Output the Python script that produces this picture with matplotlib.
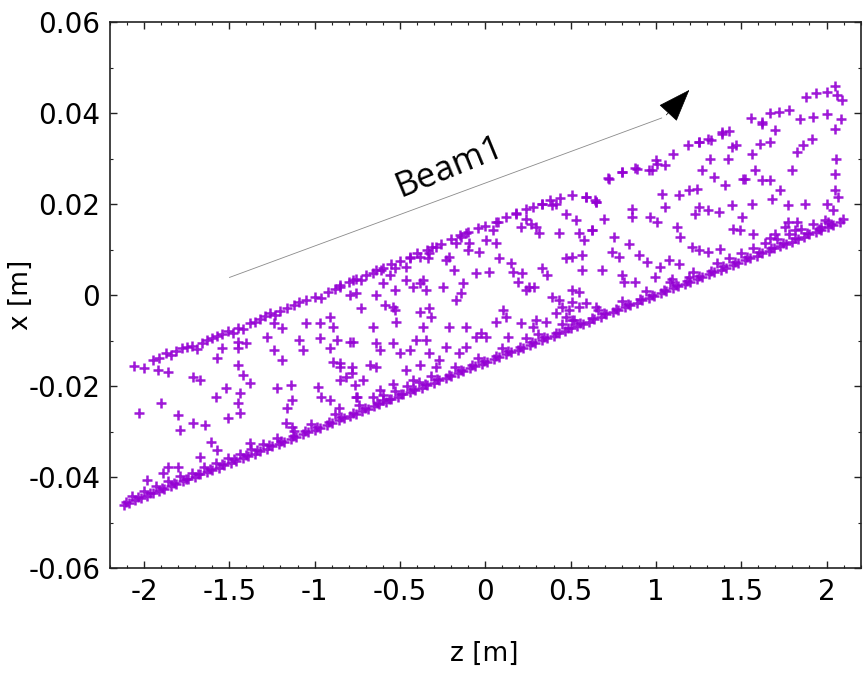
import matplotlib
matplotlib.use('Agg')
import matplotlib.pyplot as plt
from matplotlib.ticker import MultipleLocator, FormatStrFormatter

plt.rcParams['axes.unicode_minus'] = False
plt.rcParams['font.family'] = ['DejaVu Sans']

# lower edge of the band (dense line of particles)
z_edge = [-2.12, -2.09, -2.05, -2.02, -1.98, -1.95, -1.91, -1.88, -1.84, -1.81,
          -1.77, -1.74, -1.70, -1.67, -1.63, -1.60, -1.56, -1.53, -1.49, -1.46,
          -1.42, -1.39, -1.35, -1.32, -1.28, -1.25, -1.21, -1.18, -1.14, -1.11,
          -1.07, -1.04, -1.00, -0.97, -0.93, -0.90, -0.86, -0.83, -0.79, -0.76,
          -0.72, -0.69, -0.65, -0.62, -0.58, -0.55, -0.51, -0.48, -0.44, -0.41,
          -0.37, -0.34, -0.30, -0.27, -0.23, -0.20, -0.16, -0.13, -0.09, -0.06,
          -0.02, 0.01, 0.05, 0.08, 0.12, 0.15, 0.19, 0.22, 0.26, 0.29,
          0.33, 0.36, 0.40, 0.43, 0.47, 0.50, 0.54, 0.57, 0.61, 0.64,
          0.68, 0.71, 0.75, 0.78, 0.82, 0.85, 0.89, 0.92, 0.96, 0.99,
          1.03, 1.06, 1.10, 1.13, 1.17, 1.20, 1.24, 1.27, 1.31, 1.34,
          1.38, 1.41, 1.45, 1.48, 1.52, 1.55, 1.59, 1.62, 1.66, 1.69,
          1.73, 1.76, 1.80, 1.83, 1.87, 1.90, 1.94, 1.97, 2.01, 2.04, 2.08]
x_edge = [-0.0462, -0.0457, -0.0450, -0.0446, -0.0441, -0.0435, -0.0431, -0.0426, -0.0419, -0.0416,
          -0.0409, -0.0405, -0.0400, -0.0394, -0.0389, -0.0384, -0.0379, -0.0373, -0.0368, -0.0364,
          -0.0357, -0.0353, -0.0348, -0.0342, -0.0337, -0.0332, -0.0326, -0.0322, -0.0317, -0.0311,
          -0.0306, -0.0301, -0.0296, -0.0291, -0.0285, -0.0281, -0.0275, -0.0270, -0.0265, -0.0260,
          -0.0254, -0.0250, -0.0244, -0.0239, -0.0234, -0.0229, -0.0223, -0.0218, -0.0213, -0.0208,
          -0.0203, -0.0198, -0.0192, -0.0187, -0.0182, -0.0177, -0.0172, -0.0167, -0.0161, -0.0156,
          -0.0151, -0.0146, -0.0141, -0.0136, -0.0130, -0.0125, -0.0120, -0.0115, -0.0109, -0.0105,
          -0.0099, -0.0094, -0.0089, -0.0084, -0.0078, -0.0073, -0.0068, -0.0063, -0.0058, -0.0053,
          -0.0047, -0.0042, -0.0037, -0.0032, -0.0026, -0.0022, -0.0016, -0.0011, -0.0006, -0.0001,
          0.0005, 0.0009, 0.0015, 0.0020, 0.0025, 0.0030, 0.0036, 0.0041, 0.0046, 0.0051,
          0.0056, 0.0061, 0.0067, 0.0072, 0.0077, 0.0082, 0.0087, 0.0092, 0.0098, 0.0103,
          0.0108, 0.0113, 0.0118, 0.0123, 0.0129, 0.0134, 0.0139, 0.0144, 0.0150, 0.0154, 0.0160]

# more particles packed on the lower edge
z_edge3 = [-2.105, -2.035, -1.965, -1.895, -1.825, -1.755, -1.685, -1.615, -1.545, -1.475,
           -1.405, -1.335, -1.265, -1.195, -1.125, -1.055, -0.985, -0.915, -0.845, -0.775,
           -0.705, -0.635, -0.565, -0.495, -0.425, -0.355, -0.285, -0.215, -0.145, -0.075,
           -0.005, 0.065, 0.135, 0.205, 0.275, 0.345, 0.415, 0.485, 0.555, 0.625,
           0.695, 0.765, 0.835, 0.905, 0.975, 1.045, 1.115, 1.185, 1.255, 1.325,
           1.395, 1.465, 1.535, 1.605, 1.675, 1.745, 1.815, 1.885, 1.955, 2.025]
x_edge3 = [-0.0455, -0.0444, -0.0434, -0.0423, -0.0413, -0.0403, -0.0392, -0.0382, -0.0372, -0.0361,
           -0.0351, -0.0341, -0.0330, -0.0320, -0.0310, -0.0299, -0.0289, -0.0278, -0.0268, -0.0258,
           -0.0247, -0.0237, -0.0227, -0.0216, -0.0206, -0.0196, -0.0185, -0.0175, -0.0165, -0.0154,
           -0.0144, -0.0133, -0.0123, -0.0113, -0.0102, -0.0092, -0.0082, -0.0071, -0.0061, -0.0051,
           -0.0040, -0.0030, -0.0019, -0.0009, 0.0001, 0.0012, 0.0022, 0.0032, 0.0043, 0.0053,
           0.0064, 0.0074, 0.0084, 0.0095, 0.0105, 0.0115, 0.0126, 0.0136, 0.0146, 0.0157]

# particles just above the lower edge
z_edge2 = [-2.07, -2.00, -1.93, -1.86, -1.79, -1.72, -1.65, -1.58, -1.51, -1.44,
           -1.37, -1.30, -1.22, -1.12, -1.02, -0.88, -0.74, -0.60, -0.53, -0.46,
           -0.39, -0.32, -0.18, -0.04, 0.10, 0.24, 0.31, 0.45, 0.52, 0.66,
           0.80, 0.94, 1.08, 1.22, 1.36, 1.43, 1.50, 1.57, 1.64, 1.71,
           1.78, 1.85, 1.92, 1.99]
x_edge2 = [-0.0441, -0.0430, -0.0420, -0.0409, -0.0398, -0.0390, -0.0378, -0.0369, -0.0357, -0.0348,
           -0.0337, -0.0326, -0.0314, -0.0298, -0.0284, -0.0262, -0.0242, -0.0220, -0.0211, -0.0199,
           -0.0190, -0.0178, -0.0158, -0.0137, -0.0117, -0.0095, -0.0085, -0.0064, -0.0054, -0.0033,
           -0.0012, 0.0009, 0.0030, 0.0051, 0.0072, 0.0082, 0.0092, 0.0103, 0.0114, 0.0124,
           0.0134, 0.0145, 0.0156, 0.0165]

# upper edge of the band
z_top = [-2.06, -2.00, -1.95, -1.91, -1.87, -1.84, -1.81, -1.78, -1.75, -1.72,
         -1.69, -1.66, -1.63, -1.60, -1.57, -1.54, -1.51, -1.48, -1.45, -1.42,
         -1.38, -1.35, -1.32, -1.29, -1.26, -1.23, -1.20, -1.16, -1.12, -1.09,
         -1.05, -1.00, -0.96, -0.92, -0.88, -0.85, -0.80, -0.76, -0.70, -0.64,
         -0.60, -0.55, -0.50, -0.44, -0.40, -0.34, -0.31, -0.26, -0.20, -0.15,
         -0.10, -0.04, 0.00, 0.06, 0.12, 0.18, 0.24, 0.28, 0.33, 0.38,
         0.44, 0.51, 0.59, 0.65, 0.72, 0.80, 0.88, 0.98, 1.00, 1.10,
         1.19, 1.25, 1.32, 1.39, 1.43, 1.47, 1.56, 1.62, 1.67, 1.72,
         1.78, 1.88, 1.94, 2.00, 2.05, 2.09, 2.06]
x_top = [-0.0156, -0.0160, -0.0142, -0.0137, -0.0128, -0.0131, -0.0122, -0.0117, -0.0113, -0.0111,
         -0.0118, -0.0105, -0.0099, -0.0093, -0.0089, -0.0086, -0.0079, -0.0084, -0.0072, -0.0075,
         -0.0062, -0.0058, -0.0052, -0.0046, -0.0040, -0.0044, -0.0035, -0.0028, -0.0022, -0.0015,
         -0.0010, -0.0004, -0.0007, 0.0008, 0.0014, 0.0019, 0.0029, 0.0036, 0.0044, 0.0055,
         0.0061, 0.0068, 0.0076, 0.0084, 0.0093, 0.0100, 0.0106, 0.0113, 0.0123, 0.0132,
         0.0140, 0.0149, 0.0153, 0.0161, 0.0171, 0.0180, 0.0189, 0.0195, 0.0201, 0.0210,
         0.0214, 0.0220, 0.0216, 0.0205, 0.0257, 0.0270, 0.0280, 0.0275, 0.0297, 0.0310,
         0.0330, 0.0336, 0.0342, 0.0358, 0.0362, 0.0331, 0.0390, 0.0380, 0.0400, 0.0402,
         0.0407, 0.0435, 0.0444, 0.0447, 0.0460, 0.0430, 0.0440]

# scattered particles inside the band
z_inner = [-1.92, -1.86, -1.71, -1.67, -1.45, -1.42, -1.38, -1.58, -1.52, -1.45,
           -1.44, -1.44, -1.51, -1.90, -2.03, -1.80, -1.79, -1.71, -1.64, -1.61,
           -1.57, -1.67, -1.86, -1.80, -1.89, -1.98, -1.38, -1.24, -1.19, -1.22,
           -1.14, -1.13, -1.16, -1.17, -1.13, -1.09, -1.07, -1.05, -0.97, -0.91,
           -0.89, -0.87, -0.91, -0.89, -0.85, -0.78, -0.78, -0.98, -0.96, -0.91,
           -0.85, -0.86, -0.75, -0.79, -0.97, -1.24, -1.19, -1.28, -1.40, -1.45,
           -1.45, -1.54, -1.57,
           -0.853, -0.775, -0.726, -0.658, -0.609, -0.561, -0.531, -0.463, -0.444, -0.385,
           -0.336, -0.327, -0.288, -0.230, -0.210, -0.171, -0.142, -0.113, -0.103, -0.035,
           0.004, 0.043, 0.072, 0.063, 0.179, 0.208, 0.238, 0.267, 0.296, 0.315,
           0.335, 0.393, 0.413, 0.432, 0.471, 0.530, 0.549, 0.579, 0.588, 0.647,
           0.627, 0.510, 0.569, 0.471, 0.569,
           -0.794, -0.755, -0.726, -0.638, -0.600, -0.590, -0.541, -0.531, -0.522, -0.531,
           -0.463, -0.424, -0.385, -0.366, -0.346, -0.385, -0.366, -0.327, -0.317, -0.249,
           -0.181, -0.142, -0.132, -0.113, -0.171, -0.093, -0.054, 0.024, 0.082, 0.150,
           0.160, 0.189, 0.218, 0.238, 0.257, 0.286, 0.335, 0.364, 0.393, 0.432,
           0.510, 0.549, 0.452, 0.491, 0.510, 0.549, 0.588, 0.647,
           -0.775, -0.658, -0.638, -0.619, -0.541, -0.502, -0.463, -0.444, -0.405, -0.346,
           -0.327, -0.385, -0.230, -0.210, -0.152, -0.113, -0.054, -0.025, 0.004, 0.063,
           0.102, 0.121, 0.131, 0.208, 0.277, 0.296, 0.354, 0.413, 0.471, 0.510,
           -0.853, -0.814, -0.765, -0.717, -0.755, -0.678, -0.638, -0.619, -0.658, -0.600,
           -0.541, -0.424, -0.288, -0.269,
           0.646, 0.695, 0.627, 0.754, 0.744, 0.783, 0.841, 0.685, 0.802, 0.812,
           0.880, 0.861, 0.861, 0.900, 0.948, 0.968, 1.007, 1.036, 1.055, 1.026,
           1.075, 1.133, 1.123, 1.143, 1.133, 1.192, 1.240, 1.250, 1.269, 1.308,
           1.338, 1.367, 1.318, 1.406, 1.445, 1.454, 1.493, 1.503, 1.513, 1.561,
           1.581, 1.620, 1.669, 1.678, 1.727, 1.776, 1.795, 1.824, 1.863, 1.912,
           1.844, 1.922, 2.000, 2.048, 2.087, 2.058, 2.048, 2.048, 2.068, 2.039,
           2.097, 2.000, 1.873, 1.776, 1.824, 1.698, 1.571, 1.211, 1.250, 1.308,
           1.377, 1.231, 1.094, 0.997, 1.192, 1.561, 1.610, 1.669, 1.698, 1.620,
           1.445, 1.386, 1.308, 1.250, 1.425, 1.523, 1.055, 1.007, 0.958, 0.890,
           0.802, 0.724, 1.669, 1.756, 1.815, 1.970, 2.010]
x_inner = [-0.0165, -0.0169, -0.0180, -0.0187, -0.0154, -0.0176, -0.0193, -0.0224, -0.0204, -0.0237,
           -0.0215, -0.0259, -0.0270, -0.0237, -0.0259, -0.0264, -0.0297, -0.0281, -0.0286, -0.0323,
           -0.0341, -0.0356, -0.0378, -0.0378, -0.0391, -0.0407, -0.0325, -0.0121, -0.0143, -0.0204,
           -0.0198, -0.0231, -0.0248, -0.0281, -0.0290, -0.0099, -0.0121, -0.0062, -0.0062, -0.0048,
           -0.0070, -0.0099, -0.0116, -0.0147, -0.0150, -0.0158, -0.0171, -0.0202, -0.0224, -0.0231,
           -0.0187, -0.0248, -0.0224, -0.0103, -0.0095, -0.0062, -0.0073, -0.0092, -0.0105, -0.0116,
           -0.0103, -0.0116, -0.0138,
           0.0022, 0.0033, 0.0033, 0.0048, 0.0055, 0.0044, 0.0059, 0.0062, 0.0081, 0.0084,
           0.0081, 0.0092, 0.0106, 0.0077, 0.0084, 0.0114, 0.0128, 0.0136, 0.0099, 0.0095,
           0.0121, 0.0143, 0.0161, 0.0114, 0.0179, 0.0150, 0.0168, 0.0157, 0.0150, 0.0136,
           0.0201, 0.0198, 0.0201, 0.0136, 0.0179, 0.0165, 0.0136, 0.0121, 0.0216, 0.0205,
           0.0143, 0.0084, 0.0088, 0.0081, 0.0055,
           0.0000, 0.0004, -0.0029, 0.0000, 0.0026, -0.0022, -0.0026, 0.0011, -0.0059, -0.0033,
           0.0033, 0.0018, 0.0026, 0.0033, 0.0011, -0.0037, -0.0070, -0.0029, -0.0048, 0.0018,
           0.0055, 0.0004, 0.0026, -0.0070, -0.0011, 0.0114, 0.0048, 0.0051, 0.0081, 0.0070,
           0.0051, 0.0029, 0.0048, 0.0011, 0.0018, 0.0018, 0.0059, 0.0044, -0.0004, -0.0011,
           0.0011, 0.0007, -0.0026, -0.0033, -0.0015, -0.0026, -0.0018, -0.0026,
           -0.0103, -0.0070, -0.0106, -0.0121, -0.0106, -0.0128, -0.0165, -0.0121, -0.0099, -0.0099,
           -0.0128, -0.0154, -0.0114, -0.0070, -0.0128, -0.0114, -0.0092, -0.0084, -0.0092, -0.0059,
           -0.0033, -0.0048, -0.0092, -0.0062, -0.0070, -0.0055, -0.0059, -0.0040, -0.0048, -0.0055,
           -0.0158, -0.0179, -0.0198, -0.0187, -0.0224, -0.0154, -0.0158, -0.0209, -0.0224, -0.0231,
           -0.0194, -0.0187, -0.0158, -0.0143,
           0.0209, 0.0168, 0.0143, 0.0128, 0.0095, 0.0084, 0.0113, 0.0055, 0.0044, 0.0029,
           0.0029, 0.0190, 0.0172, 0.0088, 0.0073, 0.0172, 0.0161, 0.0223, 0.0194, 0.0062,
           0.0077, 0.0069, 0.0150, 0.0128, 0.0220, 0.0231, 0.0234, 0.0194, 0.0275, 0.0187,
           0.0260, 0.0183, 0.0300, 0.0242, 0.0198, 0.0146, 0.0143, 0.0172, 0.0256, 0.0201,
           0.0275, 0.0253, 0.0253, 0.0212, 0.0231, 0.0198, 0.0275, 0.0315, 0.0330, 0.0344,
           0.0388, 0.0392, 0.0399, 0.0366, 0.0388, 0.0300, 0.0267, 0.0231, 0.0216, 0.0187,
           0.0168, 0.0201, 0.0201, 0.0161, 0.0161, 0.0135, 0.0135, 0.0106, 0.0099, 0.0095,
           0.0102, 0.0179, 0.0036, 0.0040, 0.0040, 0.0311, 0.0333, 0.0337, 0.0363, 0.0377,
           0.0326, 0.0355, 0.0344, 0.0337, 0.0300, 0.0256, 0.0286, 0.0289, 0.0275, 0.0278,
           0.0271, 0.0256, 0.0125, 0.0150, 0.0143, 0.0150, 0.0161]

z_all = z_edge + z_edge3 + z_edge2 + z_top + z_inner
x_all = x_edge + x_edge3 + x_edge2 + x_top + x_inner

fig = plt.figure(figsize=(8.65, 6.78), dpi=100)
ax = fig.add_axes([0.127, 0.162, 0.868, 0.805])

ax.scatter(z_all, x_all, marker='+', s=52, c='#9400D3', linewidths=1.8, alpha=0.9)

ax.set_xlim(-2.2, 2.2)
ax.set_ylim(-0.06, 0.06)
ax.xaxis.set_major_locator(MultipleLocator(0.5))
ax.xaxis.set_minor_locator(MultipleLocator(0.1))
ax.yaxis.set_major_locator(MultipleLocator(0.02))
ax.yaxis.set_minor_locator(MultipleLocator(0.01))
ax.xaxis.set_major_formatter(FormatStrFormatter('%g'))
ax.yaxis.set_major_formatter(FormatStrFormatter('%g'))

ax.tick_params(axis='both', which='both', direction='in', top=True, right=True,
               color='#222222')
ax.tick_params(axis='both', which='major', length=5, width=1.0, labelsize=20, pad=7)
ax.tick_params(axis='both', which='minor', length=2.5, width=0.8)
for sp in ax.spines.values():
    sp.set_linewidth(1.2)
    sp.set_color('#222222')

ax.set_xlabel('z [m]', fontsize=19)
ax.set_ylabel('x [m]', fontsize=19)
ax.xaxis.set_label_coords(0.499, -0.133)
ax.yaxis.set_label_coords(-0.101, 0.5)

# beam direction arrow
ax.annotate('', xy=(1.05, 0.0392), xytext=(-1.515, 0.0037),
            arrowprops=dict(arrowstyle='-', color='#8a8a8a', lw=0.6))
ax.annotate('', xy=(1.207, 0.0456), xytext=(1.05, 0.0392),
            arrowprops=dict(arrowstyle='-|>,head_length=0.6,head_width=0.22',
                            mutation_scale=36, color='black', lw=0.5))
ax.text(-0.21, 0.0281, 'Beam1', fontsize=25, family='Open Sans',
        rotation=22.3, rotation_mode='anchor', ha='center', va='center')

plt.savefig('out.png', dpi=100)
